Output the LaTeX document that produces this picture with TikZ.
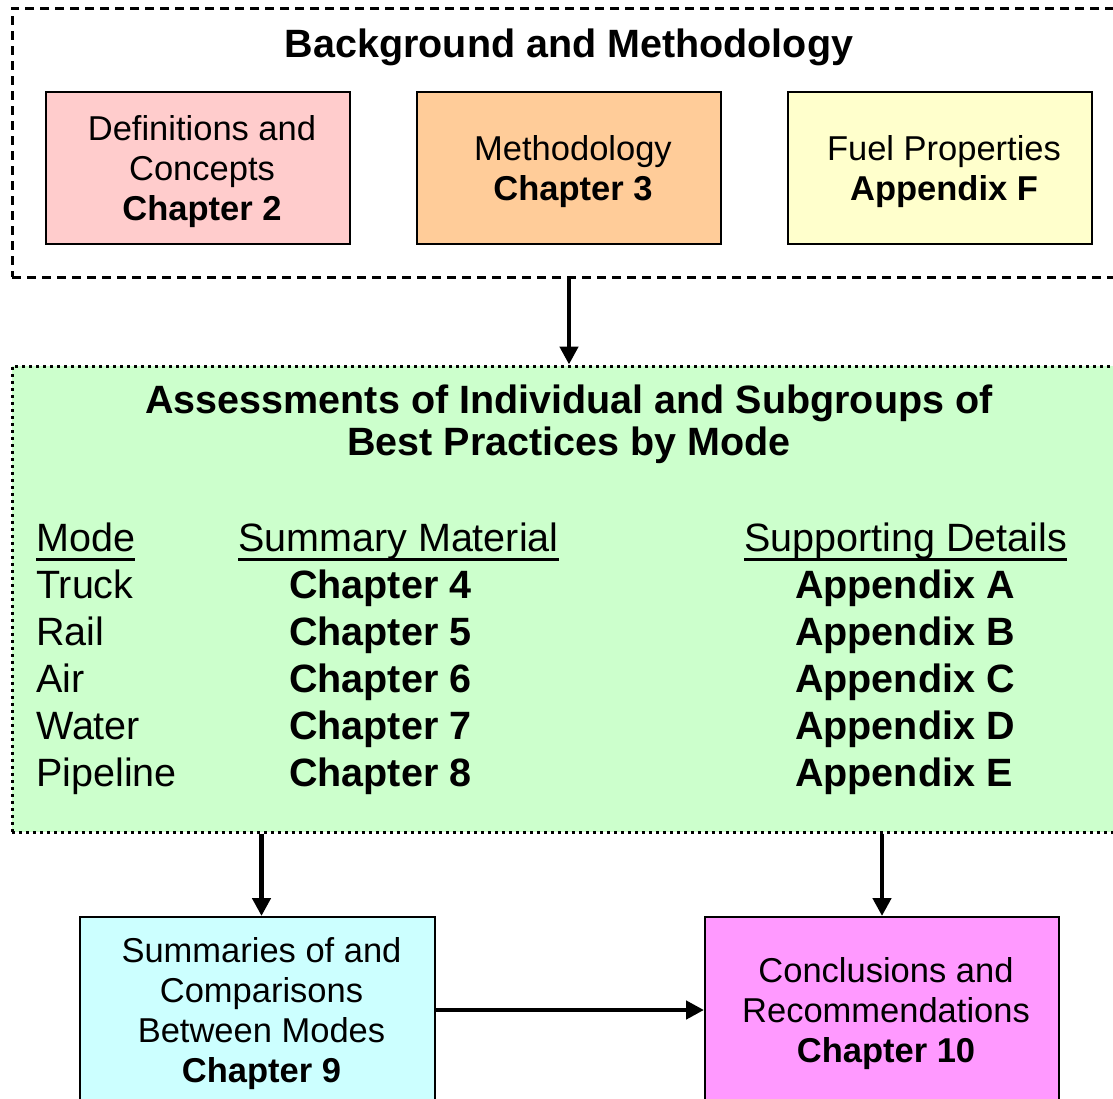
\documentclass[tikz,border=0pt]{standalone}
\usepackage{fontspec}
\setmainfont{Liberation Sans}
\usetikzlibrary{arrows.meta}
\definecolor{pinkc}{HTML}{FFCCCC}
\definecolor{orangec}{HTML}{FFCC99}
\definecolor{yellowc}{HTML}{FFFFCC}
\definecolor{greenc}{HTML}{CCFFCC}
\definecolor{cyanc}{HTML}{CCFFFF}
\definecolor{magentac}{HTML}{FF99FF}
\begin{document}
\begin{tikzpicture}[x=1pt,y=-1pt,
  box/.style={draw=black, line width=2pt, minimum width=304pt, minimum height=152pt, inner sep=0pt},
  lowbox/.style={box, minimum width=355pt, minimum height=186pt},
  boxtext/.style={align=center, inner sep=0pt, font=\fontsize{34.5}{40}\selectfont},
  big/.style={inner sep=0pt, font=\fontsize{39.5}{42}\selectfont},
  bigb/.style={big, font=\fontsize{39.5}{42}\selectfont\bfseries},
  arr/.style={line width=4.5pt, -{Triangle[length=18pt,width=18pt]}},
  ul/.style={line width=3pt},
  dashedframe/.style={draw=black, line width=3pt, dash pattern=on 9pt off 6pt, inner sep=0pt},
  dottedframe/.style={draw=black, line width=3pt, dash pattern=on 3pt off 4pt, inner sep=0pt, fill=greenc}]
\useasboundingbox (0,0) rectangle (1113,1098);
\clip (0,0) rectangle (1113,1098);

% Background and Methodology
\node[dashedframe, minimum width=1114pt, minimum height=269pt] (bg) at (569,142.5) {};
\node[bigb, anchor=base] (bgtitle) at (569,57) {Background and Methodology};
\node[box, fill=pinkc] (defs) at (198,168) {};
\node[boxtext] (defst) at ([shift={(4pt,-4pt)}]defs.center) {Definitions and\\Concepts\\\textbf{Chapter 2}};
\node[box, fill=orangec] (meth) at (569,168) {};
\node[boxtext] (metht) at ([shift={(4pt,-4pt)}]meth.center) {Methodology\\\textbf{Chapter 3}};
\node[box, fill=yellowc] (fuel) at (940,168) {};
\node[boxtext] (fuelt) at ([shift={(4pt,-4pt)}]fuel.center) {Fuel Properties\\\textbf{Appendix F}};

% Assessments
\node[dottedframe, minimum width=1114pt, minimum height=466pt] (asm) at (569,599) {};
\node[bigb, anchor=base] (asmt1) at (569,413) {Assessments of Individual and Subgroups of};
\node[bigb, anchor=base] (asmt2) at (569,455) {Best Practices by Mode};

\node[big, anchor=base west] (hmode) at (36,551) {Mode};
\node[big, anchor=base west] (hsum) at (238,551) {Summary Material};
\node[big, anchor=base west] (hsup) at (744,551) {Supporting Details};
\foreach \h in {hmode,hsum,hsup}
  \draw[ul] ([yshift=-8pt]\h.base west) -- ([yshift=-8pt]\h.base east);

\foreach \m/\c/\a [count=\i] in {Truck/4/A, Rail/5/B, Air/6/C, Water/7/D, Pipeline/8/E} {
  \node[big, anchor=base west] (m\i) at (36,551+47*\i) {\m};
  \node[bigb, anchor=base west] (c\i) at (289,551+47*\i) {Chapter \c};
  \node[bigb, anchor=base west] (a\i) at (795,551+47*\i) {Appendix \a};
}

% Bottom boxes
\node[lowbox, fill=cyanc] (summ) at (257.5,1010) {};
\node[boxtext] (summt) at ([shift={(4pt,-4pt)}]summ.center) {Summaries of and\\Comparisons\\Between Modes\\\textbf{Chapter 9}};
\node[lowbox, fill=magentac, minimum width=354pt] (concl) at (882,1010) {};
\node[boxtext] (conclt) at ([shift={(4pt,-4pt)}]concl.center) {Conclusions and\\Recommendations\\\textbf{Chapter 10}};

% Connectors
\draw[arr] (bg.south) -- (asm.north);
\draw[arr] (asm.south -| summt.north) -- (summt.north |- summ.north);
\draw[arr] (asm.south -| concl.north) -- (concl.north);
\draw[arr] (summ.east) -- (concl.west);
\end{tikzpicture}
\end{document}
